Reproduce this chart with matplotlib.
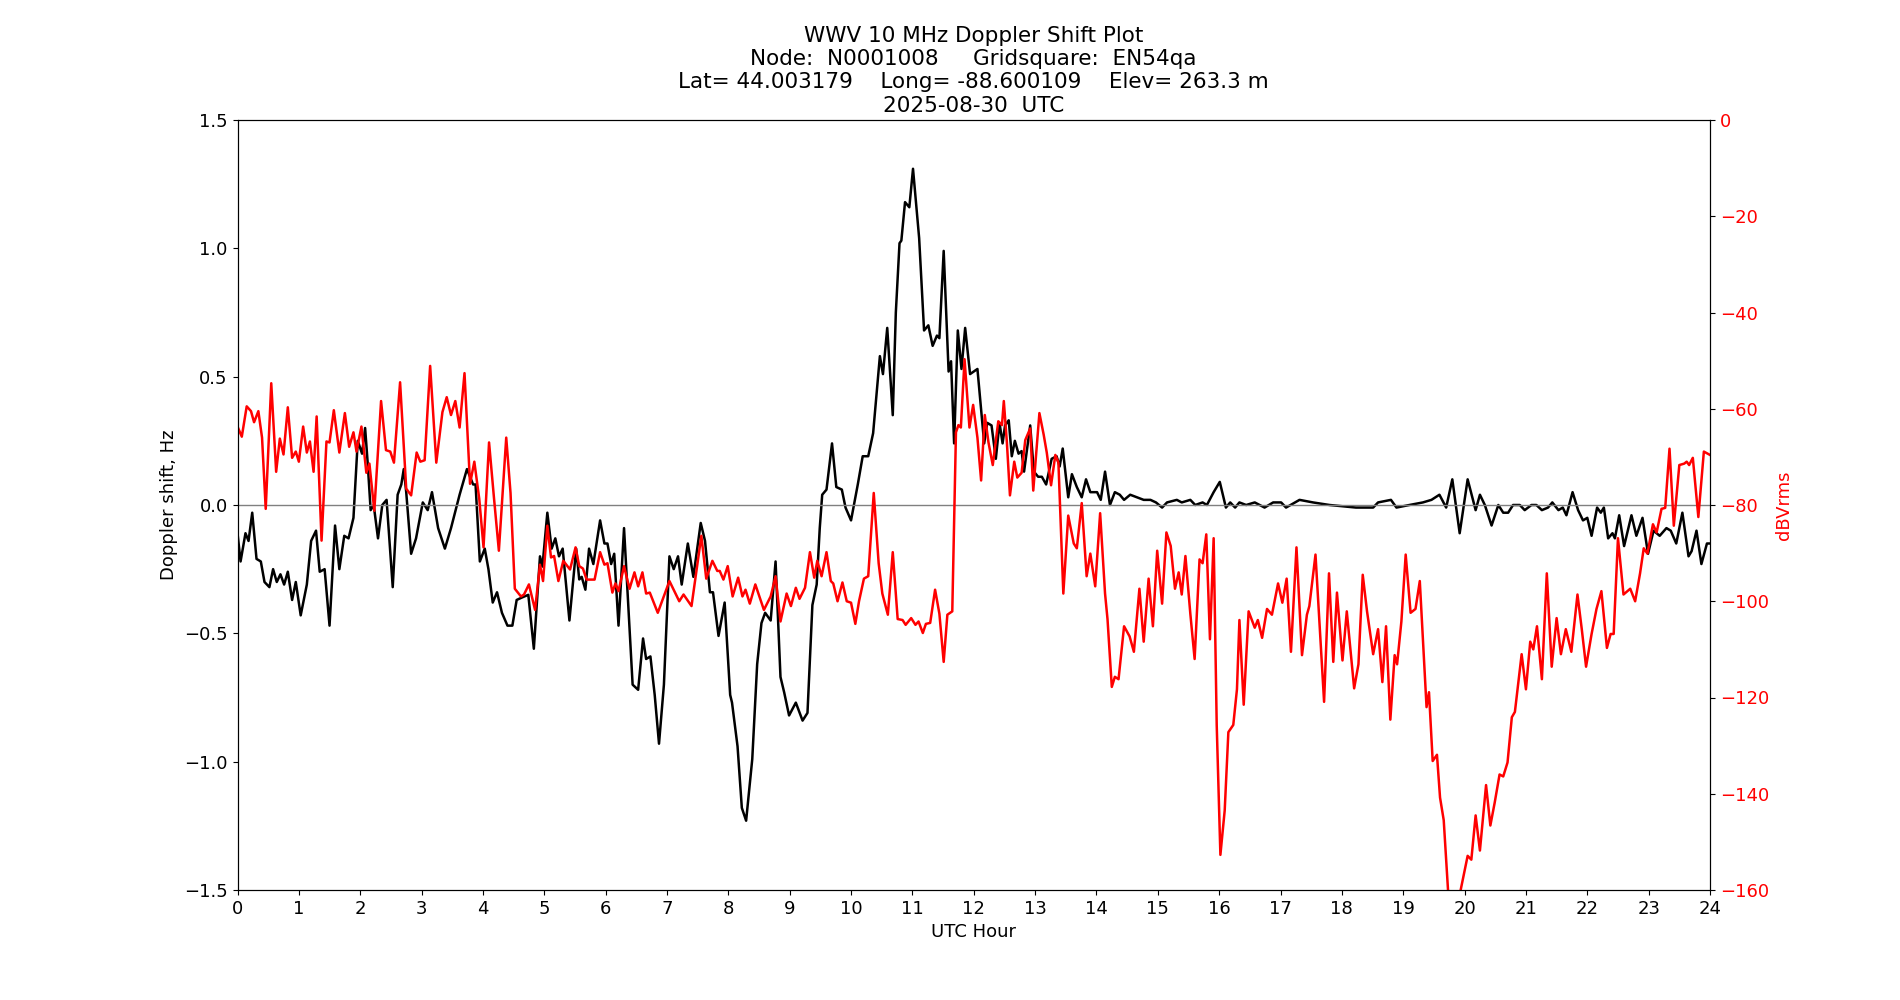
import matplotlib
matplotlib.use("Agg")
import matplotlib.pyplot as plt

# Doppler shift (Hz) readings
dop_hours = [0.00, 0.05, 0.13, 0.18, 0.24, 0.31, 0.38, 0.44, 0.52, 0.58, 0.64, 0.70, 0.76, 0.82, 0.89, 0.95,
             1.03, 1.13, 1.20, 1.28, 1.34, 1.42, 1.50, 1.59, 1.66, 1.74, 1.81, 1.89, 1.96, 2.03, 2.08, 2.12,
             2.17, 2.22, 2.29, 2.36, 2.43, 2.53, 2.61, 2.67, 2.71, 2.75, 2.83, 2.91, 3.02, 3.10, 3.17, 3.27,
             3.38, 3.48, 3.62, 3.74, 3.84, 3.88, 3.95, 4.03,
             4.09, 4.16, 4.23, 4.31, 4.40, 4.48, 4.55, 4.64, 4.74, 4.83, 4.93, 4.97, 5.05, 5.12, 5.18, 5.24,
             5.30, 5.41, 5.52, 5.57, 5.61, 5.67, 5.73, 5.80, 5.91, 5.98, 6.03, 6.09, 6.14, 6.21, 6.30, 6.36,
             6.44, 6.53, 6.61, 6.66, 6.73, 6.80, 6.87, 6.95, 7.04, 7.11, 7.18, 7.24, 7.34, 7.43, 7.55, 7.62,
             7.70, 7.75, 7.84, 7.94, 8.03,
             8.06, 8.15, 8.22, 8.29, 8.39, 8.47, 8.54, 8.60, 8.69, 8.77, 8.85, 8.91, 8.99, 9.10, 9.21, 9.29,
             9.37, 9.44, 9.49, 9.53, 9.60, 9.69, 9.76, 9.85, 9.91, 10.00, 10.11, 10.19, 10.28, 10.36, 10.47,
             10.52, 10.59, 10.68, 10.73, 10.79, 10.82, 10.88, 10.95, 11.01, 11.11, 11.19, 11.26, 11.33, 11.40,
             11.44, 11.51, 11.59, 11.63, 11.68, 11.74, 11.80, 11.86, 11.94, 12.06,
             12.17, 12.22, 12.29, 12.36, 12.42, 12.47, 12.51, 12.57, 12.62, 12.67, 12.73, 12.78, 12.82, 12.92,
             12.98, 13.05, 13.11, 13.18, 13.27, 13.35, 13.40, 13.45, 13.54, 13.60, 13.68, 13.76, 13.83, 13.90,
             14.01, 14.07, 14.14, 14.22, 14.30, 14.38, 14.45, 14.55, 14.66, 14.77, 14.88, 14.97, 15.07, 15.15,
             15.31, 15.39, 15.53, 15.61, 15.73, 15.80, 15.91, 16.01, 16.11, 16.18, 16.26,
             16.33, 16.44, 16.58, 16.74, 16.88, 17.01, 17.09, 17.31, 17.53, 17.80, 18.23, 18.51, 18.59, 18.80,
             18.89, 19.10, 19.32, 19.46, 19.59, 19.70, 19.80, 19.92, 20.05, 20.18,
             20.25, 20.33, 20.44, 20.55, 20.63, 20.71, 20.79, 20.90, 20.98, 21.09, 21.17, 21.26, 21.36, 21.43,
             21.53, 21.60, 21.66, 21.76, 21.85, 21.93, 22.00, 22.07, 22.16, 22.22, 22.27, 22.34, 22.41, 22.45,
             22.52, 22.60, 22.72, 22.80, 22.90, 22.99, 23.08, 23.18, 23.29, 23.36, 23.45, 23.55, 23.65, 23.70,
             23.78, 23.86, 23.95, 24.00]
dop_hz = [-0.11, -0.22, -0.11, -0.14, -0.03, -0.21, -0.22, -0.30, -0.32, -0.25, -0.30, -0.27, -0.31, -0.26, -0.37, -0.30,
          -0.43, -0.31, -0.14, -0.10, -0.26, -0.25, -0.47, -0.08, -0.25, -0.12, -0.13, -0.05, 0.25, 0.20, 0.30, 0.17,
          -0.02, 0.00, -0.13, 0.00, 0.02, -0.32, 0.04, 0.08, 0.14, 0.05, -0.19, -0.13, 0.01, -0.02, 0.05, -0.09,
          -0.17, -0.09, 0.04, 0.14, 0.08, 0.08, -0.22, -0.17,
          -0.25, -0.38, -0.34, -0.42, -0.47, -0.47, -0.37, -0.36, -0.35, -0.56, -0.20, -0.24, -0.03, -0.17, -0.13, -0.20,
          -0.17, -0.45, -0.17, -0.29, -0.28, -0.33, -0.17, -0.23, -0.06, -0.15, -0.15, -0.23, -0.19, -0.47, -0.09, -0.35,
          -0.70, -0.72, -0.52, -0.60, -0.59, -0.74, -0.93, -0.70, -0.20, -0.25, -0.20, -0.31, -0.15, -0.28, -0.07, -0.14,
          -0.34, -0.34, -0.51, -0.38, -0.74,
          -0.77, -0.94, -1.18, -1.23, -0.99, -0.62, -0.46, -0.42, -0.45, -0.22, -0.67, -0.73, -0.82, -0.77, -0.84, -0.81,
          -0.39, -0.31, -0.09, 0.04, 0.06, 0.24, 0.07, 0.06, -0.01, -0.06, 0.08, 0.19, 0.19, 0.28, 0.58,
          0.51, 0.69, 0.35, 0.75, 1.02, 1.03, 1.18, 1.16, 1.31, 1.04, 0.68, 0.70, 0.62, 0.66,
          0.65, 0.99, 0.52, 0.56, 0.24, 0.68, 0.53, 0.69, 0.51, 0.53,
          0.24, 0.32, 0.31, 0.18, 0.32, 0.24, 0.31, 0.33, 0.19, 0.25, 0.20, 0.21, 0.13, 0.31,
          0.13, 0.11, 0.11, 0.08, 0.18, 0.19, 0.15, 0.22, 0.03, 0.12, 0.07, 0.03, 0.10, 0.05,
          0.05, 0.02, 0.13, 0.00, 0.05, 0.04, 0.02, 0.04, 0.03, 0.02, 0.02, 0.01, -0.01, 0.01,
          0.02, 0.01, 0.02, 0.00, 0.01, 0.00, 0.05, 0.09, -0.01, 0.01, -0.01,
          0.01, 0.00, 0.01, -0.01, 0.01, 0.01, -0.01, 0.02, 0.01, 0.00, -0.01, -0.01, 0.01, 0.02,
          -0.01, 0.00, 0.01, 0.02, 0.04, -0.01, 0.10, -0.11, 0.10, -0.02,
          0.04, 0.00, -0.08, 0.00, -0.03, -0.03, 0.00, 0.00, -0.02, 0.00, 0.00, -0.02, -0.01, 0.01,
          -0.02, -0.01, -0.04, 0.05, -0.02, -0.06, -0.05, -0.12, -0.01, -0.03, -0.01, -0.13, -0.11, -0.13,
          -0.04, -0.16, -0.04, -0.12, -0.05, -0.19, -0.10, -0.12, -0.09, -0.10, -0.15, -0.03, -0.20, -0.18,
          -0.10, -0.23, -0.15, -0.15]

# Signal level (dBVrms) readings
lvl_hours = [0.00, 0.07, 0.15, 0.22, 0.27, 0.34, 0.40, 0.46, 0.55, 0.63, 0.69, 0.75, 0.82, 0.89, 0.95, 1.00,
             1.07, 1.13, 1.18, 1.24, 1.29, 1.37, 1.45, 1.50, 1.57, 1.66, 1.75, 1.82, 1.89, 1.94, 2.02, 2.10,
             2.15, 2.23, 2.34, 2.42, 2.49, 2.55, 2.65, 2.75, 2.83, 2.92, 2.98, 3.05, 3.14, 3.24, 3.34, 3.41,
             3.48, 3.55, 3.62, 3.70, 3.79, 3.86, 3.94, 4.01, 4.10,
             4.18, 4.26, 4.38, 4.45, 4.52, 4.62, 4.67, 4.75, 4.85, 4.93, 4.98, 5.05, 5.11, 5.16, 5.23, 5.31,
             5.42, 5.51, 5.57, 5.63, 5.69, 5.82, 5.91, 5.98, 6.03, 6.11, 6.16, 6.21, 6.30, 6.39, 6.47, 6.53,
             6.60, 6.66, 6.72, 6.85, 7.04, 7.20, 7.27, 7.40, 7.56, 7.64, 7.74, 7.82, 7.86, 7.92, 7.99,
             8.07, 8.16, 8.23, 8.28, 8.35, 8.44, 8.58, 8.69, 8.77, 8.85, 8.95, 9.02, 9.10, 9.16, 9.25, 9.33,
             9.40, 9.45, 9.52, 9.60, 9.67, 9.71, 9.78, 9.86, 9.93, 10.00, 10.07, 10.13, 10.21, 10.28, 10.37,
             10.45, 10.51, 10.60, 10.68, 10.76, 10.84, 10.89, 10.98, 11.05, 11.10, 11.17, 11.22, 11.29, 11.37,
             11.44, 11.51, 11.57, 11.65, 11.71, 11.75, 11.79, 11.85, 11.93, 11.99, 12.06, 12.12,
             12.18, 12.24, 12.31, 12.40, 12.46, 12.49, 12.54, 12.59, 12.66, 12.71, 12.78, 12.84, 12.92, 12.97,
             13.07, 13.14, 13.19, 13.26, 13.33, 13.38, 13.46, 13.54, 13.63, 13.68, 13.76, 13.84, 13.90, 13.98,
             14.06, 14.14, 14.18, 14.25, 14.30, 14.36, 14.45, 14.54, 14.61, 14.70, 14.77, 14.85, 14.92, 14.99,
             15.07, 15.14, 15.21, 15.28, 15.34, 15.39, 15.45, 15.53, 15.60, 15.68, 15.73, 15.79, 15.85, 15.91,
             15.96, 16.02, 16.09, 16.15, 16.23, 16.29, 16.33,
             16.40, 16.48, 16.58, 16.63, 16.70, 16.78, 16.86, 16.96, 17.03, 17.10, 17.17, 17.26, 17.35, 17.43,
             17.47, 17.57, 17.71, 17.79, 17.86, 17.92, 18.01, 18.08, 18.20, 18.27, 18.34, 18.41, 18.51, 18.59,
             18.66, 18.72, 18.79, 18.86, 18.90, 18.97, 19.04, 19.12, 19.20, 19.27, 19.32, 19.38, 19.42, 19.48,
             19.55, 19.60, 19.66, 19.73, 19.80, 19.86, 19.92, 19.97, 20.05, 20.11, 20.18,
             20.25, 20.35, 20.42, 20.49, 20.57, 20.63, 20.70, 20.77, 20.82, 20.93, 21.00, 21.07, 21.12, 21.18,
             21.26, 21.34, 21.42, 21.50, 21.57, 21.65, 21.74, 21.84, 21.91, 21.98, 22.07, 22.15, 22.23, 22.32,
             22.38, 22.43, 22.50, 22.59, 22.70, 22.78, 22.86, 22.92, 22.98, 23.07, 23.13, 23.21, 23.27, 23.34,
             23.41, 23.50, 23.58, 23.62, 23.66, 23.72, 23.81, 23.90, 24.00]
lvl_db = [-63.7, -65.8, -59.5, -60.5, -62.8, -60.5, -66.0, -80.8, -54.7, -73.1, -66.2, -69.5, -59.7, -70.2, -68.9, -71.0,
          -63.7, -69.1, -66.8, -73.1, -61.6, -87.4, -66.8, -67.0, -60.3, -69.1, -60.9, -67.9, -64.9, -68.9, -63.7, -73.3,
          -71.4, -81.2, -58.4, -68.6, -68.9, -71.2, -54.5, -76.6, -78.0, -69.1, -71.0, -70.7, -51.1, -71.2, -60.7, -57.6,
          -61.3, -58.4, -63.9, -52.6, -75.6, -71.0, -78.7, -88.8, -67.0,
          -78.5, -89.5, -66.0, -77.5, -97.4, -99.0, -98.6, -96.5, -101.8, -92.4, -95.8, -84.3, -90.9, -90.6, -95.8, -91.6,
          -93.4, -88.8, -92.7, -93.2, -95.5, -95.5, -89.8, -92.4, -92.1, -98.2, -96.3, -97.9, -92.7, -97.4, -94.0, -96.9,
          -94.0, -98.4, -98.2, -102.4, -95.8, -100.0, -98.6, -101.0, -86.4, -95.3, -91.6, -93.7, -93.7, -95.5, -92.7,
          -99.0, -95.1, -99.0, -97.6, -100.5, -96.5, -101.8, -99.0, -94.8, -104.2, -98.4, -101.0, -97.2, -99.5, -97.2, -89.8,
          -95.1, -91.6, -94.8, -89.8, -95.8, -96.3, -100.0, -96.1, -100.0, -100.3, -104.7, -100.0, -95.3, -94.8, -77.5,
          -92.1, -98.4, -102.8, -89.8, -103.7, -103.9, -104.9, -103.5, -104.9, -104.2, -106.6, -104.7, -104.5, -97.6,
          -102.6, -112.6, -102.8, -102.1, -64.9, -63.4, -63.9, -49.7, -63.9, -59.2, -66.0, -74.9,
          -61.3, -67.0, -71.7, -62.6, -63.4, -58.4, -67.0, -78.0, -71.0, -74.3, -73.3, -66.5, -64.1, -77.0,
          -60.9, -65.4, -69.1, -75.9, -69.6, -71.2, -98.4, -82.2, -88.0, -89.0, -79.6, -94.8, -90.1, -96.9,
          -81.7, -98.4, -103.7, -117.8, -115.7, -116.2, -105.2, -107.3, -110.5, -97.4, -108.4, -95.3, -105.2, -89.5,
          -100.5, -85.7, -88.5, -97.4, -94.0, -98.6, -90.6, -102.6, -112.0, -91.3, -92.1, -86.1, -107.9, -86.9,
          -125.7, -152.7, -143.5, -127.2, -125.7, -118.3, -103.9,
          -121.5, -102.1, -105.5, -103.9, -107.6, -101.6, -102.8, -96.3, -100.3, -95.3, -110.5, -88.8, -111.2, -102.8,
          -101.0, -90.3, -120.9, -94.2, -112.6, -98.2, -112.3, -102.1, -118.1, -113.1, -94.5, -102.1, -111.0, -105.8,
          -116.8, -105.2, -124.6, -111.2, -113.1, -104.2, -90.3, -102.4, -101.6, -95.8, -107.9, -122.0, -118.9, -133.2,
          -131.9, -140.8, -145.5, -160.0, -168.0, -168.0, -161.0, -157.9, -152.9, -153.7, -144.5,
          -151.8, -138.2, -146.6, -141.9, -136.0, -136.4, -133.5, -124.1, -123.0, -111.0, -118.3, -108.4, -110.0, -105.2,
          -116.2, -94.2, -113.6, -103.5, -111.0, -105.8, -110.5, -98.6, -105.8, -113.6, -106.8, -101.6, -97.9, -109.7,
          -106.8, -106.8, -86.9, -98.6, -97.4, -100.0, -94.2, -89.0, -90.1, -84.0, -85.7, -80.8, -80.6, -68.3,
          -84.3, -71.7, -71.4, -71.0, -71.7, -70.2, -82.5, -68.9, -69.6]

xtick_vals = list(range(0, 25))

title_lines = ["WWV 10 MHz Doppler Shift Plot",
               "Node:  N0001008     Gridsquare:  EN54qa",
               "Lat= 44.003179    Long= -88.600109    Elev= 263.3 m",
               "2025-08-30  UTC"]

fig, ax = plt.subplots(figsize=(19, 10), dpi=100)
ax.plot(dop_hours, dop_hz, color="black", lw=1.8)
ax.axhline(0, color="grey", lw=1)
ax.set_xlim(0, 24)
ax.set_ylim(-1.5, 1.5)
ax.set_xticks(xtick_vals)
ax.tick_params(labelsize=13)
ax.set_xlabel("UTC Hour", fontsize=13)
ax.set_ylabel("Doppler shift, Hz", fontsize=13)
ax.set_title("\n".join(title_lines), fontsize=15.5)

ax2 = ax.twinx()
ax2.plot(lvl_hours, lvl_db, color="red", lw=1.8)
ax2.set_ylim(-160, 0)
ax2.set_ylabel("dBVrms", color="red", fontsize=13)
ax2.tick_params(axis="y", colors="red", labelsize=13)
ax2.tick_params(axis="y", color="black")

fig.savefig("out.png", dpi=100)
